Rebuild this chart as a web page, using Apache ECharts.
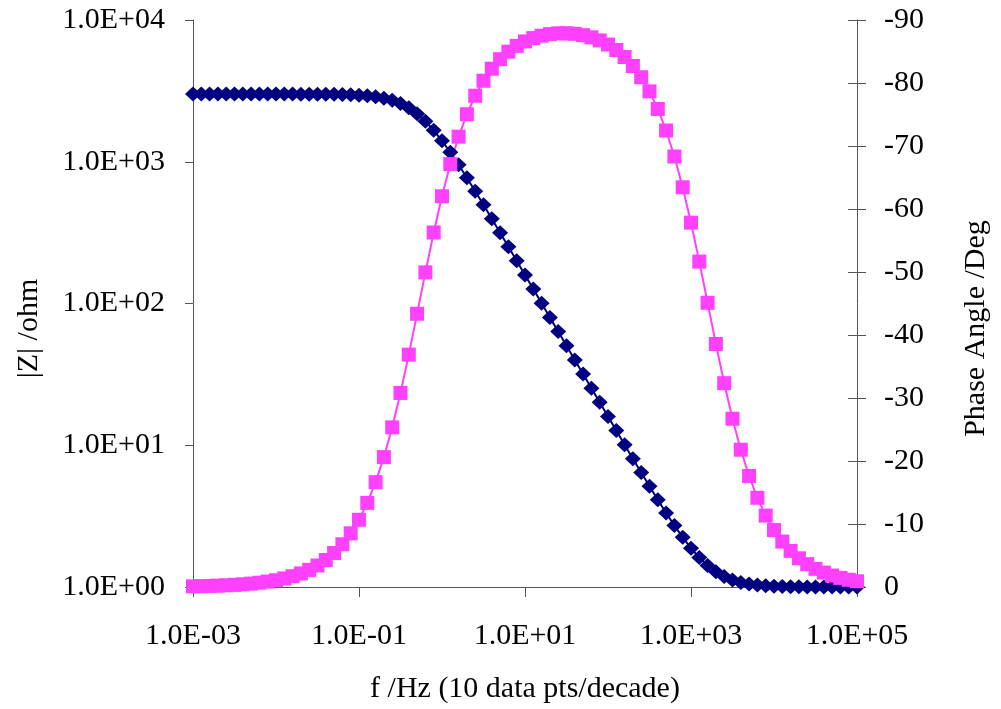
<!DOCTYPE html>
<html>
<head>
<meta charset="utf-8">
<script src="https://cdn.jsdelivr.net/npm/echarts@6/dist/echarts.min.js"></script>
<style>
  html, body { margin: 0; padding: 0; background: #fff; }
  #chart { width: 1001px; height: 709px; }
</style>
</head>
<body>
<div id="chart"></div>
<script>
// Bode plot: impedance magnitude and phase, 10 points per decade, 1 mHz .. 100 kHz
const freqHz = [
  0.001, 0.001259, 0.001585, 0.001995, 0.002512, 0.003162, 0.003981, 0.005012, 0.00631, 0.007943,
  0.01, 0.01259, 0.01585, 0.01995, 0.02512, 0.03162, 0.03981, 0.05012, 0.0631, 0.07943,
  0.1, 0.1259, 0.1585, 0.1995, 0.2512, 0.3162, 0.3981, 0.5012, 0.631, 0.7943,
  1, 1.259, 1.585, 1.995, 2.512, 3.162, 3.981, 5.012, 6.31, 7.943,
  10, 12.59, 15.85, 19.95, 25.12, 31.62, 39.81, 50.12, 63.1, 79.43,
  100, 125.9, 158.5, 199.5, 251.2, 316.2, 398.1, 501.2, 631, 794.3,
  1000, 1259, 1585, 1995, 2512, 3162, 3981, 5012, 6310, 7943,
  10000, 12590, 15850, 19950, 25120, 31620, 39810, 50120, 63100, 79430,
  100000
];

// |Z| in ohm
const zModulus = [
  3001, 3001, 3001, 3001, 3001, 3001, 3001, 3001, 3000.8, 3000.7,
  3000.5, 3000.2, 2999.7, 2998.9, 2997.6, 2995.7, 2992.6, 2987.7, 2980.0, 2967.9,
  2949.1, 2919.9, 2875.4, 2808.9, 2712.3, 2577.6, 2400.2, 2181.4, 1931.3, 1666.7,
  1406.4, 1165.4, 952.4, 771.1, 620.1, 496.5, 396.3, 315.9, 251.4, 200.0,
  159.0, 126.5, 100.4, 79.8, 63.39, 50.35, 40.0, 31.78, 25.25, 20.07,
  15.95, 12.69, 10.09, 8.042, 6.416, 5.132, 4.122, 3.33, 2.714, 2.24,
  1.88, 1.612, 1.417, 1.279, 1.184, 1.12, 1.077, 1.049, 1.031, 1.02,
  1.013, 1.008, 1.005, 1.003, 1.002, 1.001, 1.001, 1.0005, 1.0003, 1.0002,
  1.0001
];

// phase angle in degrees
const phaseDeg = [
  -0.11, -0.14, -0.17, -0.22, -0.27, -0.34, -0.43, -0.54, -0.68, -0.86,
  -1.08, -1.36, -1.71, -2.15, -2.71, -3.41, -4.29, -5.40, -6.78, -8.52,
  -10.67, -13.35, -16.64, -20.61, -25.34, -30.80, -36.88, -43.37, -49.94, -56.27,
  -62.02, -67.13, -71.48, -75.04, -77.98, -80.36, -82.27, -83.78, -84.97, -85.89,
  -86.60, -87.13, -87.51, -87.76, -87.89, -87.90, -87.80, -87.59, -87.25, -86.76,
  -86.10, -85.24, -84.12, -82.70, -80.91, -78.67, -75.88, -72.46, -68.33, -63.44,
  -57.83, -51.65, -45.11, -38.57, -32.35, -26.71, -21.79, -17.62, -14.16, -11.33,
  -9.04, -7.21, -5.73, -4.56, -3.63, -2.88, -2.29, -1.82, -1.44, -1.15,
  -0.91
];

// decade exponents that carry a frequency label
const freqTickExponents = [-3, -1, 1, 3, 5];

const FONT = '"Liberation Serif", "Times New Roman", serif';
const FS_TICK = 30;
const FS_NAME = 30;
const AXIS_COLOR = '#555555';

function sciFromExp(e) {
  const sign = e < 0 ? '-' : '+';
  return '1.0E' + sign + String(Math.abs(e)).padStart(2, '0');
}

const chart = echarts.init(document.getElementById('chart'), null, { renderer: 'canvas' });

const labelStyle = { fontFamily: FONT, fontSize: FS_TICK, color: '#000' };
const nameStyle = { fontFamily: FONT, fontSize: FS_NAME, color: '#000' };
// vertical titles sit a little below the middle of the plot
const vNameStyle = { ...nameStyle, padding: [0, 50, 0, 0] };

chart.setOption({
  animation: false,
  backgroundColor: '#fff',
  grid: { left: 193, right: 144, top: 20, bottom: 122, containLabel: false },
  xAxis: [
    {
      // data axis (Hz, logarithmic)
      type: 'log', logBase: 10, min: 0.001, max: 100000, position: 'bottom',
      axisLine: { show: true, onZero: false, lineStyle: { color: AXIS_COLOR, width: 1 } },
      axisTick: { show: false }, axisLabel: { show: false },
      splitLine: { show: false }, minorTick: { show: false }
    },
    {
      // decade ticks and labels every two decades
      type: 'value', min: -3, max: 5, interval: 2, position: 'bottom',
      axisLine: { show: false, onZero: false },
      axisTick: { show: true, inside: false, length: 10, lineStyle: { color: AXIS_COLOR } },
      axisLabel: {
        ...labelStyle, margin: 34,
        customValues: freqTickExponents,
        formatter: v => sciFromExp(Math.round(v))
      },
      splitLine: { show: false },
      name: 'f /Hz (10 data pts/decade)', nameLocation: 'middle', nameGap: 87,
      nameTextStyle: nameStyle
    }
  ],
  yAxis: [
    {
      type: 'log', logBase: 10, min: 1, max: 10000, position: 'left',
      axisLine: { show: true, onZero: false, lineStyle: { color: AXIS_COLOR } },
      axisTick: { show: true, inside: false, length: 8, lineStyle: { color: AXIS_COLOR } },
      axisLabel: {
        ...labelStyle, margin: 28,
        formatter: v => sciFromExp(Math.round(Math.log10(v)))
      },
      splitLine: { show: false }, minorTick: { show: false },
      name: '|Z| /ohm', nameLocation: 'middle', nameRotate: 90, nameGap: 149,
      nameTextStyle: vNameStyle
    },
    {
      type: 'value', min: -90, max: 0, interval: 10, inverse: true, position: 'right',
      axisLine: { show: true, onZero: false, lineStyle: { color: AXIS_COLOR } },
      axisTick: { show: true, inside: false, length: 9, lineStyle: { color: AXIS_COLOR } },
      axisLabel: { ...labelStyle, margin: 27 },
      splitLine: { show: false },
      name: 'Phase Angle /Deg', nameLocation: 'middle', nameRotate: 90, nameGap: 104,
      nameTextStyle: vNameStyle
    },
    {
      // inner half of the crossing ticks on the phase axis
      type: 'value', min: -90, max: 0, interval: 10, inverse: true, position: 'right',
      axisLine: { show: false, onZero: false },
      axisTick: { show: true, inside: true, length: 9, lineStyle: { color: AXIS_COLOR } },
      axisLabel: { show: false },
      splitLine: { show: false }
    }
  ],
  series: [
    {
      name: '|Z|', type: 'line', xAxisIndex: 0, yAxisIndex: 0,
      data: freqHz.map((f, i) => [f, zModulus[i]]),
      symbol: 'diamond', symbolSize: [16, 15], showAllSymbol: true, clip: false,
      itemStyle: { color: '#000080' },
      lineStyle: { color: '#000080', width: 2 }
    },
    {
      name: 'Phase', type: 'line', xAxisIndex: 0, yAxisIndex: 1,
      data: freqHz.map((f, i) => [f, phaseDeg[i]]),
      symbol: 'rect', symbolSize: [14, 14], showAllSymbol: true, clip: false,
      itemStyle: { color: '#FF40FF' },
      lineStyle: { color: '#FF40FF', width: 2 }
    }
  ]
});
</script>
</body>
</html>
